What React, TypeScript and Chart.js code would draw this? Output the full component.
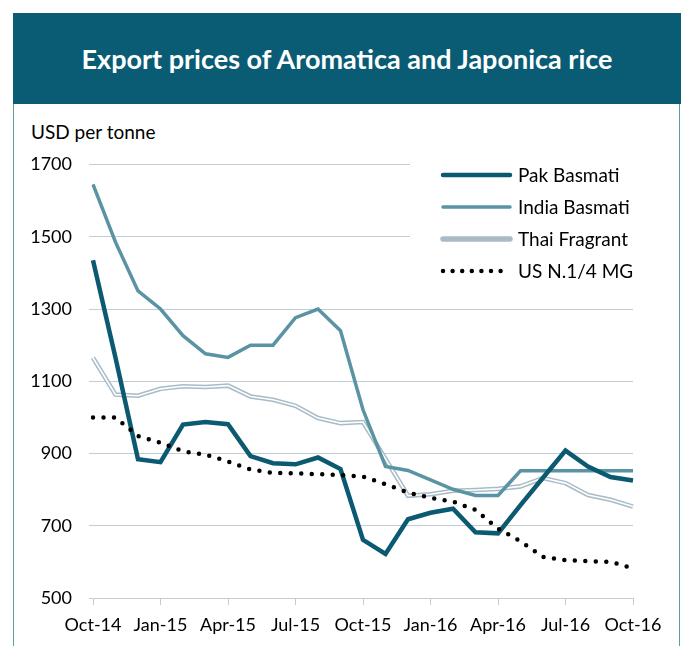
import React, { useEffect, useRef } from 'react';
import { Chart, registerables } from 'chart.js';

Chart.register(...registerables);

const months = [
  'Oct-14', 'Nov-14', 'Dec-14', 'Jan-15', 'Feb-15', 'Mar-15', 'Apr-15', 'May-15', 'Jun-15',
  'Jul-15', 'Aug-15', 'Sep-15', 'Oct-15', 'Nov-15', 'Dec-15', 'Jan-16', 'Feb-16', 'Mar-16',
  'Apr-16', 'May-16', 'Jun-16', 'Jul-16', 'Aug-16', 'Sep-16', 'Oct-16',
];

const pakBasmati = [1435, 1165, 884, 876, 980, 987, 981, 893, 873, 870, 889, 857, 661, 622, 718, 736, 747, 682, 679, 757, 833, 908, 864, 835, 825];
const indiaBasmati = [1645, 1485, 1350, 1300, 1226, 1176, 1166, 1200, 1200, 1276, 1300, 1240, 1021, 864, 853, 827, 801, 784, 784, 852, 852, 852, 852, 852, 852];
const thaiFragrant = [1165, 1063, 1060, 1079, 1086, 1084, 1088, 1058, 1049, 1032, 998, 984, 987, 885, 783, 787, 797, 799, 802, 809, 832, 818, 785, 772, 753];
const usMG = [1000, 1000, 948, 930, 906, 897, 878, 856, 846, 845, 843, 840, 836, 815, 792, 777, 767, 744, 692, 657, 614, 605, 602, 600, 582];

const yMin = 500;
const yMax = 1700;
const yStep = 200;

const PAK = '#0b5a72';
const INDIA = '#5a93a3';
const THAI = '#a8bbc7';
const GRID = '#c3cdd6';
const BAND = '#095c74';
const FRAME = '#6198a8';
const FONT = 'Lato, "Open Sans", sans-serif';

const legendItems = [
  { label: 'Pak Basmati', color: PAK, width: 4.5, dotted: false },
  { label: 'India Basmati', color: INDIA, width: 3.5, dotted: false },
  { label: 'Thai Fragrant', color: THAI, width: 5.5, dotted: false },
  { label: 'US N.1/4 MG', color: '#000000', width: 4.5, dotted: true },
];

const insideLegend = {
  id: 'insideLegend',
  afterDraw(chart: any) {
    const ctx = chart.ctx as CanvasRenderingContext2D;
    ctx.save();
    ctx.fillStyle = '#ffffff';
    ctx.fillRect(410, 150, 265, 138);
    const x0 = 443;
    const x1 = 510;
    let y = 175;
    legendItems.forEach((it) => {
      ctx.beginPath();
      ctx.strokeStyle = it.color;
      ctx.lineWidth = it.width;
      ctx.lineCap = 'round';
      ctx.setLineDash(it.dotted ? [0, 9.6] : []);
      ctx.moveTo(x0, y);
      ctx.lineTo(x1, y);
      ctx.stroke();
      ctx.setLineDash([]);
      ctx.fillStyle = '#000000';
      ctx.font = '19px ' + FONT;
      ctx.textBaseline = 'middle';
      ctx.textAlign = 'left';
      ctx.fillText(it.label, 518, y + 1);
      y += 32;
    });
    ctx.restore();
  },
};

function RiceChart() {
  const ref = useRef<HTMLCanvasElement | null>(null);
  useEffect(() => {
    if (!ref.current) return;
    const chart = new Chart(ref.current, {
      type: 'line',
      data: {
        labels: months,
        datasets: [
          {
            label: 'US N.1/4 MG',
            data: usMG,
            borderColor: '#000000',
            borderWidth: 4.5,
            borderDash: [0, 10.5],
            borderCapStyle: 'round',
            pointRadius: 0,
            tension: 0,
            order: 0,
          },
          {
            label: 'Pak Basmati',
            data: pakBasmati,
            borderColor: PAK,
            borderWidth: 4.5,
            borderJoinStyle: 'miter',
            pointRadius: 0,
            tension: 0,
            order: 1,
          },
          {
            label: 'India Basmati',
            data: indiaBasmati,
            borderColor: INDIA,
            borderWidth: 3.5,
            pointRadius: 0,
            tension: 0,
            order: 2,
          },
          {
            label: 'Thai Fragrant inner',
            data: thaiFragrant,
            borderColor: '#ffffff',
            borderWidth: 1.6,
            pointRadius: 0,
            tension: 0,
            order: 3,
          },
          {
            label: 'Thai Fragrant',
            data: thaiFragrant,
            borderColor: THAI,
            borderWidth: 4.6,
            pointRadius: 0,
            tension: 0,
            order: 4,
          },
        ],
      },
      options: {
        animation: false,
        responsive: false,
        maintainAspectRatio: false,
        events: [],
        layout: { padding: { top: 164.5, right: 48, bottom: 0, left: 0 } },
        plugins: {
          legend: { display: false },
          tooltip: { enabled: false },
          title: { display: false },
        },
        scales: {
          x: {
            type: 'category',
            afterFit: (s: any) => { s.height = 48; },
            border: { display: true, color: GRID, width: 1 },
            grid: {
              drawOnChartArea: false,
              drawTicks: true,
              tickLength: 7,
              color: (c: any) => (c.index % 3 === 0 ? GRID : 'rgba(0,0,0,0)'),
            },
            ticks: {
              autoSkip: false,
              maxRotation: 0,
              minRotation: 0,
              padding: 9,
              color: '#000000',
              font: { family: FONT, size: 18 },
              callback: (_v: any, i: number) => (i % 3 === 0 ? months[i] : ''),
            },
          },
          y: {
            min: yMin,
            max: yMax,
            afterFit: (s: any) => { s.width = 93; },
            border: { display: false },
            grid: { color: GRID, lineWidth: 1, tickLength: 4 },
            ticks: {
              stepSize: yStep,
              padding: 17,
              color: '#000000',
              font: { family: FONT, size: 18 },
              callback: (v: any) => String(v),
            },
          },
        },
      },
      plugins: [insideLegend],
    } as any);
    return () => chart.destroy();
  }, []);
  return (
    <canvas
      ref={ref}
      width={681}
      height={646}
      style={{ position: 'absolute', left: 0, top: 0, width: 681, height: 646 }}
    />
  );
}

export default function App() {
  return (
    <div style={{ position: 'absolute', left: 0, top: 0, width: 681, height: 646, background: '#ffffff', overflow: 'hidden' }}>
      <div style={{ position: 'absolute', left: 12.5, top: 13, width: 1.5, height: 633, background: FRAME }} />
      <div style={{ position: 'absolute', left: 678.5, top: 13, width: 1.5, height: 633, background: FRAME }} />
      <div
        style={{
          position: 'absolute', left: 13, top: 13, width: 668, height: 91, background: BAND,
          color: '#ffffff', fontFamily: FONT, fontWeight: 700, fontSize: 27,
          display: 'flex', alignItems: 'center', justifyContent: 'center',
        }}
      >
        Export prices of Aromatica and Japonica rice
      </div>
      <div style={{ position: 'absolute', left: 31, top: 121, fontFamily: FONT, fontSize: 19, color: '#000000', lineHeight: '22px' }}>
        USD per tonne
      </div>
      <RiceChart />
    </div>
  );
}
